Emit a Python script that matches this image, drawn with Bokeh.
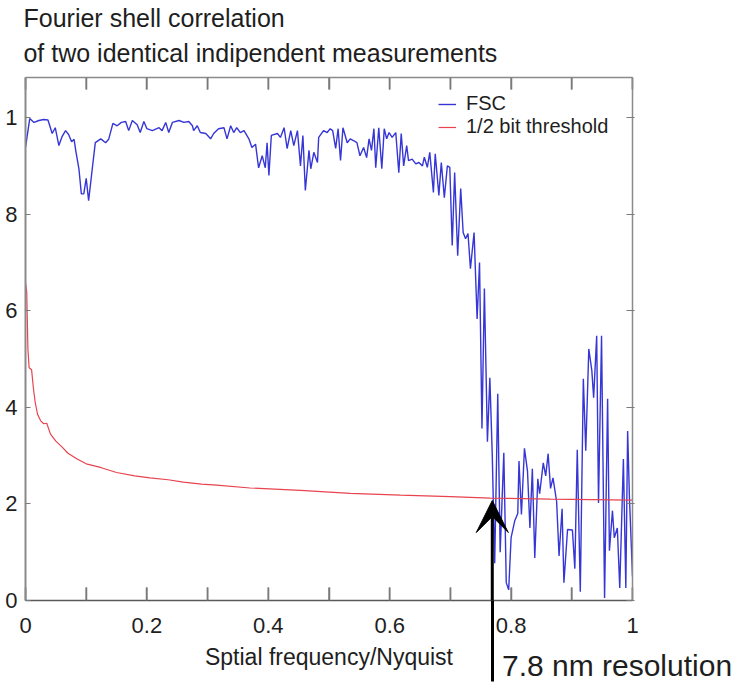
import math
from bokeh.plotting import figure
from bokeh.models import (Range1d, LinearAxis, FixedTicker, Arrow, VeeHead,
                          Legend, LegendItem)
from bokeh.embed import file_html
from bokeh.resources import INLINE

# ---------------- data ----------------
freq_fsc = [
    0.000, 0.007, 0.014, 0.022, 0.030, 0.037, 0.044, 0.049, 0.055, 0.060,
    0.066, 0.071, 0.076, 0.080, 0.083, 0.088, 0.092, 0.096, 0.100, 0.104,
    0.110, 0.115, 0.124, 0.132, 0.137, 0.144, 0.151, 0.158, 0.165, 0.170,
    0.176, 0.184, 0.189, 0.195, 0.200, 0.209, 0.220, 0.225, 0.231, 0.236,
    0.242, 0.253, 0.261, 0.269, 0.275, 0.277, 0.283, 0.288, 0.297,
    0.305, 0.310, 0.318, 0.327, 0.332, 0.338, 0.343, 0.348, 0.354, 0.360,
    0.368, 0.373, 0.379, 0.384, 0.390, 0.395, 0.398, 0.401, 0.405, 0.415,
    0.420, 0.426, 0.431, 0.437, 0.442, 0.448, 0.453, 0.457, 0.461, 0.467,
    0.470, 0.475, 0.481, 0.483, 0.491, 0.497, 0.502, 0.506, 0.511, 0.515,
    0.519, 0.523, 0.530, 0.535, 0.541, 0.546, 0.551, 0.557, 0.562, 0.566,
    0.570, 0.574, 0.577, 0.582,
    0.587, 0.591, 0.595, 0.599, 0.604, 0.610, 0.615, 0.619, 0.623, 0.628,
    0.631, 0.637, 0.643, 0.648, 0.654, 0.657, 0.662, 0.666, 0.672, 0.675,
    0.681, 0.685, 0.690, 0.695, 0.699, 0.703, 0.707, 0.712, 0.717, 0.721,
    0.725, 0.729, 0.733, 0.739,
    0.744, 0.748, 0.752, 0.756, 0.761, 0.765, 0.769, 0.773, 0.778, 0.782,
    0.788, 0.792, 0.796, 0.800, 0.806, 0.811, 0.813, 0.817, 0.822, 0.827,
    0.831, 0.835, 0.839, 0.844, 0.847, 0.853, 0.857, 0.861, 0.865, 0.869,
    0.875, 0.879, 0.884, 0.887, 0.893, 0.901, 0.905, 0.909, 0.914, 0.919,
    0.923, 0.928, 0.933, 0.936, 0.941, 0.944, 0.949, 0.954, 0.959, 0.962,
    0.967, 0.970, 0.975, 0.979, 0.985, 0.989, 0.992, 0.995, 1.000,
]
fsc = [
    0.938, 0.998, 0.990, 0.994, 0.996, 0.995, 0.967, 0.979, 0.942, 0.960,
    0.973, 0.965, 0.950, 0.955, 0.930, 0.894, 0.842, 0.842, 0.874, 0.828,
    0.894, 0.948, 0.956, 0.948, 0.955, 0.988, 0.983, 0.990, 0.992, 0.973,
    0.994, 0.985, 0.969, 0.992, 0.977, 0.973, 0.979, 0.973, 0.990, 0.969,
    0.990, 0.994, 0.990, 0.992, 0.983, 0.973, 0.983, 0.969, 0.967,
    0.956, 0.967, 0.977, 0.979, 0.956, 0.983, 0.969, 0.979, 0.969, 0.973,
    0.956, 0.938, 0.945, 0.896, 0.921, 0.896, 0.948, 0.880, 0.963, 0.967,
    0.959, 0.979, 0.936, 0.973, 0.942, 0.973, 0.900, 0.963, 0.849, 0.932,
    0.894, 0.928, 0.907, 0.959, 0.973, 0.969, 0.977, 0.973, 0.936, 0.977,
    0.911, 0.979, 0.948, 0.956, 0.952, 0.948, 0.921, 0.938, 0.917, 0.956,
    0.932, 0.977, 0.896, 0.979,
    0.894, 0.977, 0.956, 0.969, 0.959, 0.969, 0.886, 0.967, 0.900, 0.942,
    0.911, 0.914, 0.904, 0.907, 0.900, 0.918, 0.897, 0.928, 0.845, 0.925,
    0.839, 0.907, 0.834, 0.900, 0.897, 0.735, 0.886, 0.714, 0.853, 0.762,
    0.749, 0.760, 0.687, 0.762,
    0.583, 0.700, 0.356, 0.646, 0.329, 0.461, 0.300, 0.077, 0.428, 0.100,
    0.306, 0.037, 0.022, 0.130, 0.165, 0.180, 0.289, 0.178, 0.315, 0.268,
    0.150, 0.273, 0.088, 0.252, 0.221, 0.285, 0.258, 0.304, 0.232, 0.254,
    0.205, 0.092, 0.190, 0.037, 0.147, 0.146, 0.066, 0.312, 0.018, 0.459,
    0.310, 0.521, 0.476, 0.420, 0.548, 0.202, 0.548, 0.005, 0.418, 0.103,
    0.186, 0.130, 0.150, 0.026, 0.293, 0.026, 0.351, 0.212, 0.050,
]

freq_thr = [0.000, 0.002, 0.004, 0.006, 0.010, 0.013, 0.016, 0.020, 0.025, 0.030,
            0.035, 0.041, 0.050, 0.060, 0.070, 0.085, 0.100, 0.125, 0.150, 0.180,
            0.205, 0.235, 0.260, 0.290, 0.315, 0.370, 0.453, 0.535, 0.618, 0.700,
            0.766, 0.865, 1.000]
threshold = [0.658, 0.640, 0.520, 0.482, 0.478, 0.440, 0.410, 0.385, 0.372, 0.366,
             0.367, 0.345, 0.330, 0.318, 0.305, 0.293, 0.283, 0.275, 0.265, 0.258,
             0.254, 0.250, 0.245, 0.241, 0.239, 0.233, 0.228, 0.222, 0.218, 0.215,
             0.212, 0.210, 0.208]

x_ticks = [0.0, 0.1, 0.2, 0.3, 0.4, 0.5, 0.6, 0.7, 0.8, 0.9, 1.0]
x_tick_labels = ["0", "", "0.2", "", "0.4", "", "0.6", "", "0.8", "", "1"]
y_ticks = [0.0, 0.2, 0.4, 0.6, 0.8, 1.0]
y_tick_labels = ["0", "2", "4", "6", "8", "1"]

resolution_freq = 0.769      # where FSC meets the 1/2-bit threshold
resolution_thr = 0.207
resolution_text = "7.8 nm resolution"
resolution_text_center = 0.9745

title_lines = ["Fourier shell correlation", "of two identical indipendent measurements"]
title_centers = [0.2119, 0.387]      # left-aligned with the plot's left edge
x_label = "Sptial frequency/Nyquist"

X_MIN, X_MAX = 0.0, 1.0
Y_MIN, Y_MAX = 0.0, 1.083

# ---------------- styles ----------------
BLUE = "#3636d6"
RED = "#e8434f"
FONT = "Liberation Sans"
TXT = "#1e1e1e"
TICK = "#7a7a7a"

p = figure(width=742, height=685, title=None,
           x_range=Range1d(X_MIN, X_MAX), y_range=Range1d(Y_MIN, Y_MAX),
           output_backend="svg", toolbar_location=None,
           x_axis_location=None, y_axis_location=None,
           min_border_left=25, min_border_right=110, min_border_top=77, min_border_bottom=85)
p.outline_line_color = None
p.grid.visible = False
p.background_fill_color = "white"
p.border_fill_color = "white"


def text_axis(ticks, labels, size, standoff):
    """Axis whose ticks carry text only (tick marks switched off)."""
    return LinearAxis(ticker=FixedTicker(ticks=ticks),
                      major_label_overrides=dict(zip(ticks, labels)),
                      axis_line_color=None, major_tick_line_color=None,
                      minor_tick_line_color=None, major_tick_in=0, major_tick_out=0,
                      major_label_standoff=standoff,
                      major_label_text_font=FONT, major_label_text_font_size=size,
                      major_label_text_color=TXT)


# ---- bottom: frame line, inward ticks, tick labels, top part of the arrow shaft ----
xb = text_axis(x_ticks, x_tick_labels, "22px", -26)
xb.ticker = FixedTicker(ticks=x_ticks, minor_ticks=[resolution_freq])
xb.axis_line_color = "#5a5a5a"
xb.axis_line_width = 1.5
xb.major_tick_line_color = TICK
xb.major_tick_line_width = 1.5
xb.major_tick_in = 13
xb.minor_tick_line_color = "black"
xb.minor_tick_line_width = 3
xb.minor_tick_in = 0
xb.minor_tick_out = 43
p.add_layout(xb, "below")

# ---- second row: resolution note, axis title, lower part of the arrow shaft ----
xn = text_axis([resolution_text_center], [resolution_text], "30px", -33)
xn.ticker = FixedTicker(ticks=[resolution_text_center], minor_ticks=[resolution_freq])
xn.minor_tick_line_color = "black"
xn.minor_tick_line_width = 3
xn.minor_tick_in = 0
xn.minor_tick_out = 46
xn.axis_label = x_label
xn.axis_label_text_font = FONT
xn.axis_label_text_font_size = "23px"
xn.axis_label_text_font_style = "normal"
xn.axis_label_text_color = TXT
xn.axis_label_standoff = -41
p.add_layout(xn, "below")

# ---- top: frame line + inward ticks (minor) + the two title lines ----
xt = text_axis([title_centers[1]], [title_lines[1]], "25px", 11)
xt.ticker = FixedTicker(ticks=[title_centers[1]], minor_ticks=x_ticks)
xt.axis_line_color = "#8a8a8a"
xt.axis_line_width = 1.5
xt.minor_tick_line_color = TICK
xt.minor_tick_line_width = 1.5
xt.minor_tick_in = 12
xt.minor_tick_out = 0
p.add_layout(xt, "above")
xt1 = text_axis([title_centers[0]], [title_lines[0]], "25px", 4)
p.add_layout(xt1, "above")

# ---- left / right ----
yl = LinearAxis(ticker=FixedTicker(ticks=y_ticks),
                major_label_overrides=dict(zip(y_ticks, y_tick_labels)),
                minor_tick_line_color=None, major_tick_line_color=TICK,
                major_tick_in=5, major_tick_out=0, major_label_standoff=8,
                axis_line_color="#8a8a8a", axis_line_width=2,
                major_label_text_font=FONT, major_label_text_font_size="22px",
                major_label_text_color=TXT)
p.add_layout(yl, "left")

yr = LinearAxis(ticker=FixedTicker(ticks=y_ticks),
                major_label_overrides={t: "" for t in y_ticks},
                minor_tick_line_color=None, major_tick_line_color=TICK,
                major_tick_in=6, major_tick_out=2, major_label_standoff=0,
                axis_line_color="#8a8a8a", axis_line_width=1.5,
                major_label_text_font_size="0px")
p.add_layout(yr, "right")

# inward x ticks again as frame-clipped dashes (same places as the axis ticks)
p.scatter(x=x_ticks, y=[Y_MIN] * len(x_ticks), marker="dash", angle=math.pi / 2,
          size=26, line_color=TICK, line_width=1.5)
p.scatter(x=x_ticks, y=[Y_MAX] * len(x_ticks), marker="dash", angle=math.pi / 2,
          size=24, line_color=TICK, line_width=1.5)

r_fsc = p.line(freq_fsc, fsc, line_color=BLUE, line_width=1.4)
r_thr = p.line(freq_thr, threshold, line_color=RED, line_width=1.2)

legend = Legend(items=[LegendItem(label="FSC", renderers=[r_fsc]),
                       LegendItem(label="1/2 bit threshold", renderers=[r_thr])],
                location=(413, 462), border_line_color=None, background_fill_alpha=0,
                glyph_width=18, glyph_height=20, label_height=20, label_standoff=10,
                spacing=0, padding=0, margin=0,
                label_text_font=FONT, label_text_font_size="20px", label_text_color=TXT)
p.add_layout(legend)

p.add_layout(Arrow(end=VeeHead(size=32, fill_color="black", line_color="black"),
                   x_start=resolution_freq, y_start=Y_MIN,
                   x_end=resolution_freq, y_end=resolution_thr,
                   line_color="black", line_width=3))

open("out.html", "w").write(file_html(p, INLINE))
